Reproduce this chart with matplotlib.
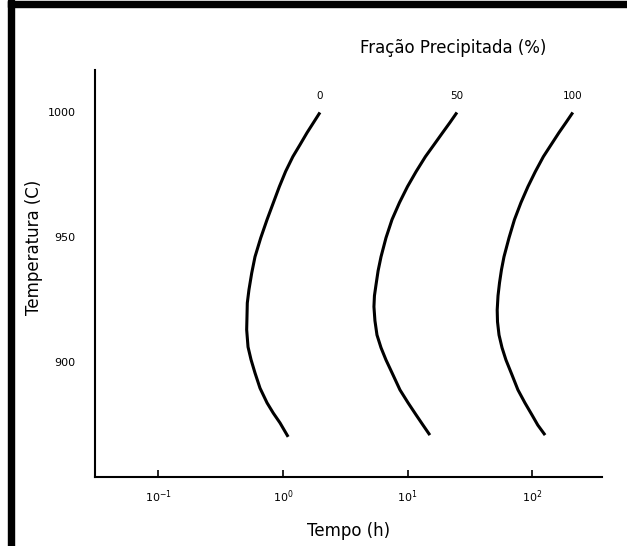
import matplotlib
matplotlib.use("Agg")
import matplotlib.pyplot as plt
from matplotlib.patches import Rectangle

# tempo (h) e temperatura (C)
temp_0 = [1000, 991.9, 987.1, 982.3, 976.4, 970.3, 963.8, 957.1, 949.7, 942.2, 935.7, 929.0,
          923.7, 918.2, 913.0, 906.1, 901.0, 895.7, 889.6, 883.7, 879.6, 875.7, 872.9, 870.1]
tempo_0 = [1.98, 1.56, 1.37, 1.20, 1.05, 0.935, 0.836, 0.745, 0.662, 0.596, 0.561, 0.533,
           0.517, 0.514, 0.511, 0.524, 0.554, 0.596, 0.654, 0.745, 0.836, 0.946, 1.02, 1.10]

temp_50 = [1000, 996.0, 991.9, 987.1, 982.3, 976.3, 970.3, 963.9, 957.1, 949.8, 942.2, 936.6, 931.0,
           926.6, 922.2, 916.6, 910.9, 905.8, 900.9, 894.9, 888.9, 883.7, 878.9, 874.8, 870.8]
tempo_50 = [24.9, 21.9, 19.1, 16.3, 13.9, 11.7, 9.98, 8.61, 7.50, 6.71, 6.12, 5.80, 5.58,
            5.42, 5.37, 5.47, 5.68, 6.12, 6.71, 7.64, 8.69, 10.1, 11.7, 13.3, 15.1]

temp_100 = [1000, 996.0, 991.9, 987.1, 982.3, 976.3, 970.3, 963.9, 957.1, 949.8, 942.2, 937.0, 931.8,
            926.6, 920.9, 916.2, 910.9, 905.8, 900.9, 894.9, 888.9, 883.7, 878.9, 874.8, 870.8]
tempo_100 = [212, 187, 164, 142, 123, 106, 92.5, 81.3, 72.1, 65.2, 59.4, 56.7, 54.7,
             53.2, 52.4, 52.7, 54.2, 57.3, 61.6, 68.9, 76.9, 87.5, 99.6, 111, 127]

curvas = ["0", "50", "100"]
yticks = [900, 950, 1000]
xticks = [0.1, 1, 10, 100]

W, H = 627, 546
fig = plt.figure(figsize=(W / 100, H / 100), dpi=100)
ax = fig.add_axes([95 / W, 1 - 477.3 / H, 507.3 / W, 407.3 / H])

for nome, t, T in zip(curvas, [tempo_0, tempo_50, tempo_100], [temp_0, temp_50, temp_100]):
    ax.plot(t, T, color="black", lw=2.2, solid_capstyle="butt", solid_joinstyle="round")
    ax.annotate(nome, (t[0], T[0]), xytext=(0, 8), textcoords="offset points",
                ha="center", va="bottom", fontsize=7.5, family=["Liberation Sans Narrow", "DejaVu Sans"])

ax.set_xscale("log")
ax.set_xlim(10 ** -1.509, 10 ** 2.563)
ax.set_ylim(853.9, 1017)
ax.set_xticks(xticks)
ax.set_xticklabels([r"$10^{-1}$", r"$10^{0}$", r"$10^{1}$", r"$10^{2}$"])
ax.minorticks_off()
ax.set_yticks(yticks)
ax.tick_params(axis="x", direction="in", length=5, width=1.2, pad=8, labelsize=8)
ax.tick_params(axis="y", length=0, pad=14, labelsize=8)
for lab in ax.get_yticklabels():
    lab.set_family(["Liberation Sans Narrow", "DejaVu Sans"])

for s in ["top", "right"]:
    ax.spines[s].set_visible(False)
for s in ["left", "bottom"]:
    ax.spines[s].set_linewidth(1.5)

ax.set_xlabel("Tempo (h)", fontsize=12, labelpad=12)
ax.set_ylabel("Temperatura (C)", fontsize=12, va="center")
ax.yaxis.set_label_coords(-0.12, 0.565)

fig.text(453 / W, 1 - 48 / H, "Fração Precipitada (%)", fontsize=12, ha="center", va="center")

# moldura preta (esquerda e topo)
fig.patches.append(Rectangle((8 / W, 0), 6 / W, 1, transform=fig.transFigure, color="black"))
fig.patches.append(Rectangle((8 / W, 1 - 7 / H), 1, 6 / H, transform=fig.transFigure, color="black"))

fig.savefig("out.png", dpi=100)
